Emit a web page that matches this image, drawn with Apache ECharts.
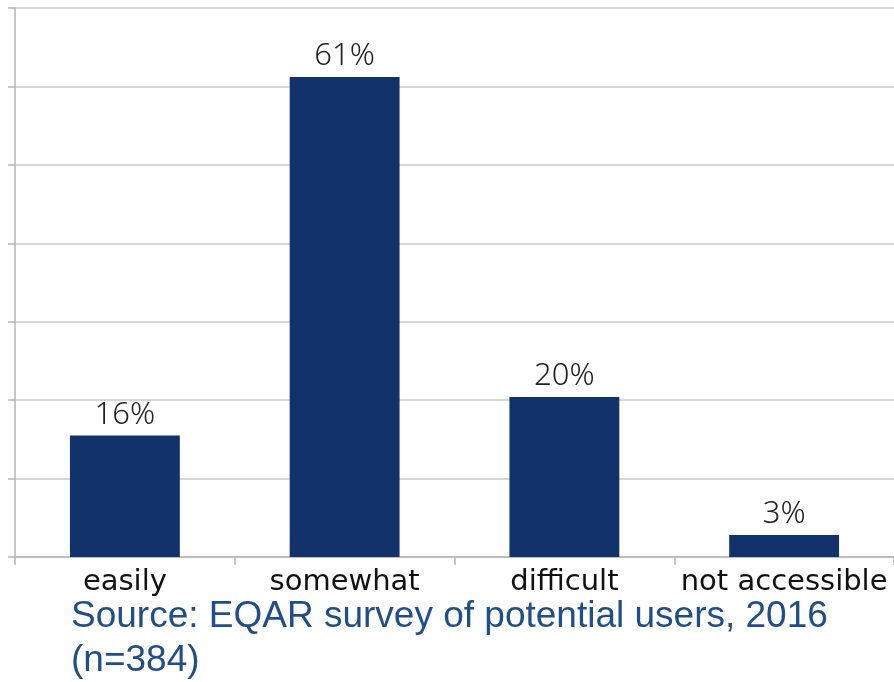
<!DOCTYPE html>
<html><head><meta charset="utf-8">
<script src="https://cdn.jsdelivr.net/npm/echarts@6/dist/echarts.min.js"></script>
<style>html,body{margin:0;padding:0;background:#fff}#c{width:894px;height:682px}</style>
</head><body><div id="c"></div>
<script>
const categories = ['easily', 'somewhat', 'difficult', 'not accessible'];
const values = [15.5, 61.2, 20.4, 2.8];
const sourceText = 'Source: EQAR survey of potential users, 2016\n(n=384)';

const chart = echarts.init(document.getElementById('c'));
chart.setOption({
  animation: false,
  backgroundColor: '#fff',
  title: {
    text: sourceText, left: 66, top: 590,
    textStyle: { fontFamily: 'Liberation Sans', fontSize: 37, fontWeight: 'normal', color: '#1F4E8A', lineHeight: 44 }
  },
  grid: { left: 15, right: -1, top: 8, bottom: 125, containLabel: false },
  xAxis: {
    type: 'category', data: categories,
    axisLine: { lineStyle: { color: '#b5b5b5', width: 1.5 } },
    axisTick: { show: true, length: 8, lineStyle: { color: '#b5b5b5', width: 1.5 } },
    axisLabel: { color: '#111', fontFamily: 'DejaVu Sans', fontSize: 29, margin: 11, interval: 0 }
  },
  yAxis: {
    type: 'value', min: 0, max: 70, interval: 10,
    axisLine: { show: true, lineStyle: { color: '#b5b5b5', width: 1.5 } },
    axisTick: { show: true, length: 7, lineStyle: { color: '#b5b5b5', width: 1.5 } },
    axisLabel: { show: false },
    splitLine: { lineStyle: { color: '#c8c8c8', width: 1.5 } }
  },
  series: [{
    type: 'bar', data: values, barWidth: '50%',
    itemStyle: { color: '#12326B' },
    label: { show: true, position: 'top', distance: 5, formatter: p => Math.round(p.value) + '%', color: '#222', fontFamily: 'Noto Sans', fontWeight: 300, fontSize: 31 }
  }]
});
</script></body></html>
